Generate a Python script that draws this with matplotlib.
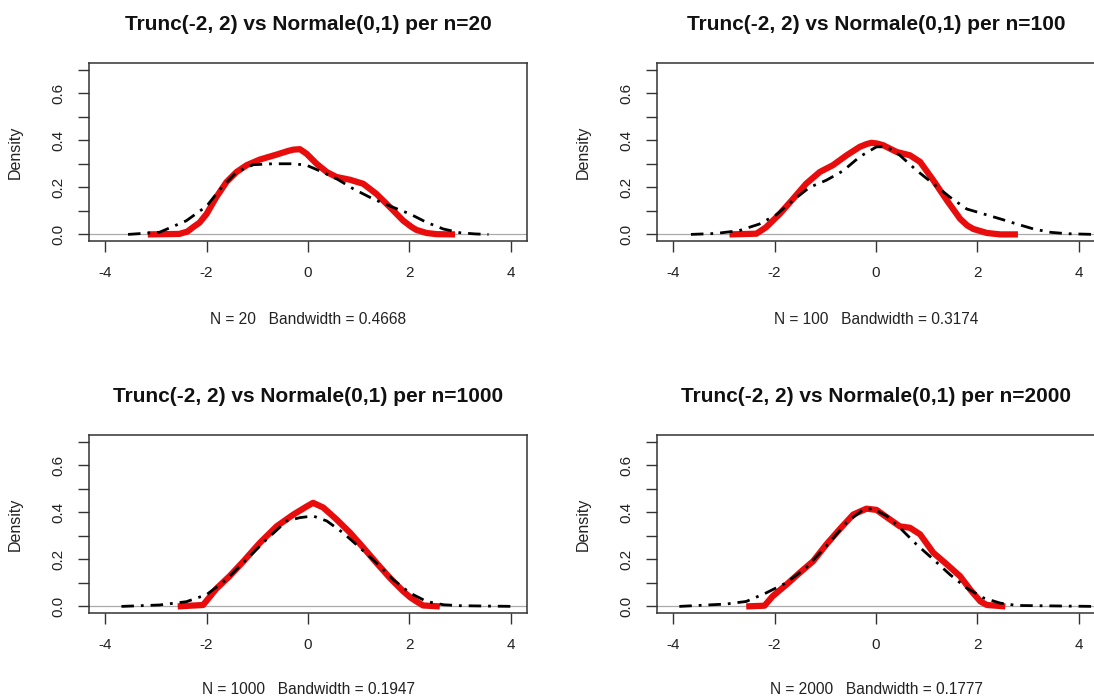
import matplotlib
matplotlib.use("Agg")
import matplotlib.pyplot as plt

plt.rcParams['font.family'] = ['Liberation Sans', 'DejaVu Sans']

# ---- data ----
sample_sizes = [20, 100, 1000, 2000]
bandwidths = ["0.4668", "0.3174", "0.1947", "0.1777"]
x_ticks = [-4, -2, 0, 2, 4]
y_ticks = [0.0, 0.1, 0.2, 0.3, 0.4, 0.5, 0.6, 0.7]
y_tick_labels = ["0.0", "", "0.2", "", "0.4", "", "0.6", ""]

trunc20_x = [-3.16, -2.54, -2.38, -2.27, -2.14, -2.0, -1.81, -1.61, -1.41, -1.21, -0.95, -0.62, -0.40, -0.29,
             -0.16, -0.03, 0.17, 0.37, 0.56, 0.83, 1.09, 1.35, 1.62, 1.88, 2.04, 2.14, 2.34, 2.54, 2.90]
trunc20_y = [0.0, 0.002, 0.012, 0.03, 0.05, 0.087, 0.158, 0.222, 0.265, 0.294, 0.318, 0.339, 0.354, 0.36,
             0.362, 0.343, 0.30, 0.265, 0.244, 0.232, 0.215, 0.172, 0.115, 0.058, 0.032, 0.019, 0.006, 0.001, 0.0]
norm20_x = [-3.55, -2.93, -2.4, -2.0, -1.74, -1.41, -1.08, -0.69, -0.29, -0.03, 0.23, 0.56, 0.89, 1.29,
            1.68, 2.01, 2.34, 2.67, 3.0, 3.3, 3.56]
norm20_y = [0.0, 0.009, 0.058, 0.12, 0.19, 0.265, 0.296, 0.30, 0.30, 0.294, 0.27, 0.237, 0.194, 0.15,
            0.115, 0.087, 0.051, 0.023, 0.007, 0.002, 0.0]

trunc100_x = [-2.89, -2.36, -2.17, -1.9, -1.64, -1.38, -1.11, -0.85, -0.58, -0.32, -0.18, -0.09, 0.02, 0.14,
              0.41, 0.67, 0.87, 1.13, 1.4, 1.66, 1.80, 1.92, 2.19, 2.45, 2.8]
trunc100_y = [0.0, 0.003, 0.03, 0.087, 0.15, 0.215, 0.265, 0.294, 0.336, 0.372, 0.384, 0.389, 0.386, 0.379,
              0.35, 0.336, 0.308, 0.23, 0.144, 0.066, 0.038, 0.023, 0.006, 0.0, 0.0]
norm100_x = [-3.65, -3.16, -2.7, -2.3, -1.97, -1.64, -1.31, -0.98, -0.65, -0.32, 0.01, 0.21, 0.47, 0.8,
             1.13, 1.46, 1.79, 2.12, 2.45, 2.78, 3.11, 3.44, 3.77, 4.3]
norm100_y = [0.0, 0.004, 0.016, 0.044, 0.083, 0.144, 0.2, 0.23, 0.27, 0.33, 0.372, 0.372, 0.336, 0.272,
             0.215, 0.158, 0.108, 0.087, 0.066, 0.044, 0.023, 0.009, 0.003, 0.0]

trunc1000_x = [-2.57, -2.07, -1.94, -1.81, -1.55, -1.28, -0.95, -0.62, -0.29, -0.03, 0.1, 0.3, 0.56, 0.83,
               1.09, 1.35, 1.62, 1.88, 2.02, 2.14, 2.27, 2.6]
trunc1000_y = [0.0, 0.006, 0.04, 0.075, 0.128, 0.19, 0.27, 0.34, 0.39, 0.424, 0.44, 0.42, 0.37, 0.313,
               0.25, 0.185, 0.12, 0.064, 0.038, 0.021, 0.004, 0.0]
norm1000_x = [-3.68, -2.93, -2.4, -2.0, -1.61, -1.21, -0.82, -0.42, -0.16, 0.1, 0.37, 0.69, 1.02, 1.35,
              1.68, 2.01, 2.34, 2.67, 3.0, 4.08]
norm1000_y = [0.0, 0.006, 0.02, 0.05, 0.114, 0.2, 0.284, 0.363, 0.377, 0.384, 0.363, 0.313, 0.25, 0.185,
              0.114, 0.057, 0.021, 0.007, 0.003, 0.0]

trunc2000_x = [-2.56, -2.2, -2.04, -1.77, -1.51, -1.24, -0.98, -0.72, -0.45, -0.19, 0.01, 0.27, 0.47, 0.67,
               0.87, 1.13, 1.4, 1.66, 1.86, 2.06, 2.19, 2.55]
trunc2000_y = [0.0, 0.003, 0.043, 0.092, 0.142, 0.192, 0.263, 0.327, 0.39, 0.415, 0.41, 0.37, 0.34, 0.334,
               0.306, 0.228, 0.178, 0.128, 0.071, 0.021, 0.006, 0.0]
norm2000_x = [-3.88, -2.96, -2.56, -2.17, -1.77, -1.38, -0.98, -0.58, -0.25, -0.06, 0.21, 0.47, 0.8, 1.13,
              1.46, 1.79, 2.12, 2.45, 2.78, 4.3]
norm2000_y = [0.0, 0.01, 0.021, 0.057, 0.1, 0.164, 0.256, 0.356, 0.412, 0.415, 0.384, 0.334, 0.263, 0.2,
              0.135, 0.078, 0.036, 0.014, 0.004, 0.0]

trunc_x = [trunc20_x, trunc100_x, trunc1000_x, trunc2000_x]
trunc_y = [trunc20_y, trunc100_y, trunc1000_y, trunc2000_y]
norm_x = [norm20_x, norm100_x, norm1000_x, norm2000_x]
norm_y = [norm20_y, norm100_y, norm1000_y, norm2000_y]

# ---- figure ----
W, H = 1094, 700
fig = plt.figure(figsize=(W / 100, H / 100), dpi=100)

# axes boxes in pixels: (left, top, right, bottom)
boxes = [(89, 63, 527, 241), (657, 63, 1095, 241),
         (89, 435, 527, 613), (657, 435, 1095, 613)]
xlabel_y = [320, 320, 689, 689]

for i, (l, t, r, b) in enumerate(boxes):
    ax = fig.add_axes([l / W, 1 - b / H, (r - l) / W, (b - t) / H])
    ax.set_xlim(-4.32, 4.32)
    ax.set_ylim(-0.028, 0.728)
    ax.axhline(0, color='#aaaaaa', lw=0.9, zorder=1)
    ax.plot(trunc_x[i], trunc_y[i], color='#e80c0c', lw=4.5, solid_capstyle='butt',
            solid_joinstyle='round', zorder=2)
    ax.plot(norm_x[i], norm_y[i], color='black', lw=2.0, dashes=(4.5, 2.5, 1.0, 2.5),
            dash_capstyle='butt', zorder=3)
    ax.set_xticks(x_ticks)
    ax.set_xticklabels([str(v) for v in x_ticks])
    ax.set_yticks(y_ticks)
    ax.set_yticklabels(y_tick_labels, rotation=90, va='center')
    ax.tick_params(direction='out', length=8, width=1.0, colors='#333333',
                   labelsize=11, labelcolor='#222222')
    ax.tick_params(axis='x', pad=10)
    ax.tick_params(axis='y', pad=9)
    for s in ax.spines.values():
        s.set_color('#333333')
        s.set_linewidth(1.1)
    cx = (l + r) / 2
    fig.text(cx / W, 1 - (t - 39) / H, f"Trunc(-2, 2) vs Normale(0,1) per n={sample_sizes[i]}",
             ha='center', va='center', fontsize=15, fontweight='bold', color='#111111')
    fig.text(cx / W, 1 - xlabel_y[i] / H, f"N = {sample_sizes[i]}   Bandwidth = {bandwidths[i]}",
             ha='center', va='center', fontsize=11.2, color='#222222')
    fig.text((l - 74) / W, 1 - ((t + b) / 2) / H, "Density", rotation=90,
             ha='center', va='center', fontsize=11.5, color='#222222')

fig.savefig("out.png", dpi=100)
